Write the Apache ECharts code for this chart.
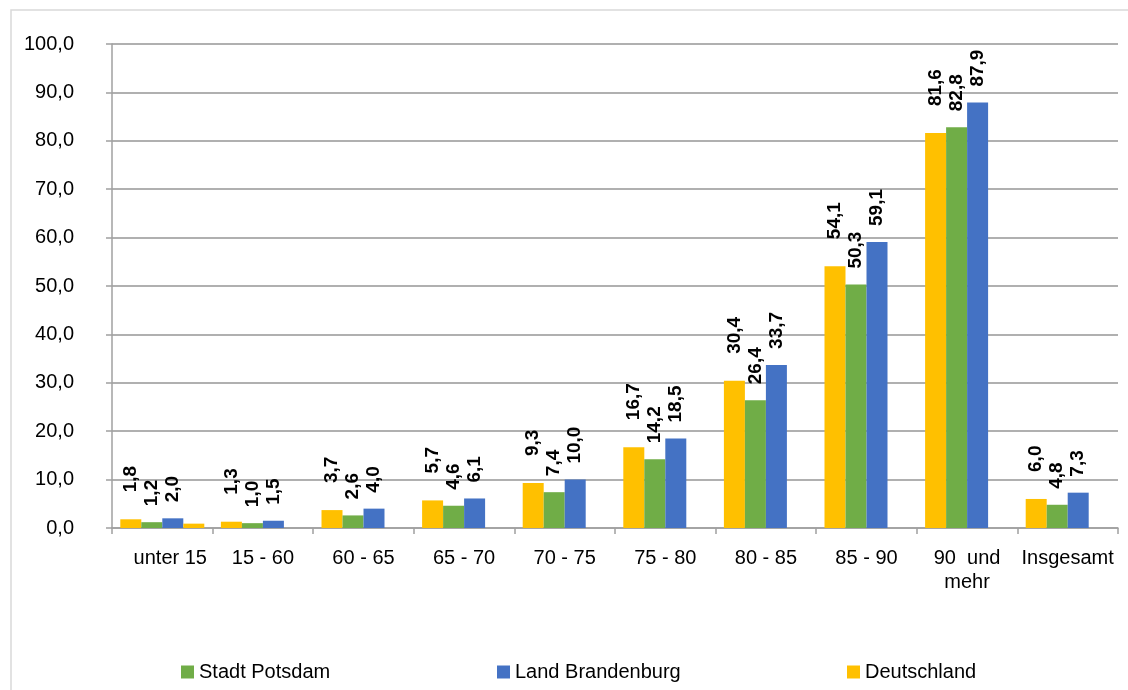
<!DOCTYPE html>
<html>
<head>
<meta charset="utf-8">
<script src="https://cdn.jsdelivr.net/npm/echarts@6/dist/echarts.min.js"></script>
<style>
html,body{margin:0;padding:0;background:#fff;}
#chart{width:1128px;height:690px;}
</style>
</head>
<body>
<div id="chart"></div>
<script>
const categories = ['unter 15','15 - 60','60 - 65','65 - 70','70 - 75','75 - 80','80 - 85','85 - 90','90  und\nmehr','Insgesamt'];
const deutschland = [1.8,1.3,3.7,5.7,9.3,16.7,30.4,54.1,81.6,6.0];
const stadtPotsdam = [1.2,1.0,2.6,4.6,7.4,14.2,26.4,50.3,82.8,4.8];
const landBrandenburg = [2.0,1.5,4.0,6.1,10.0,18.5,33.7,59.1,87.9,7.3];
const extraBar = [0.9,null,null,null,null,null,null,null,null,null];
const yTicks = {min:0, max:100, interval:10};

const FONT = "'Liberation Sans Narrow','Arial Narrow','Liberation Sans',Arial,sans-serif";
const fmt = v => Number(v).toFixed(1).replace('.', ',');

const chart = echarts.init(document.getElementById('chart'), null, {renderer:'canvas'});

function labelCfg(dist){
  return {
    show:true, position:'top', rotate:90, align:'left', verticalAlign:'middle',
    distance:dist, color:'#000', fontFamily:FONT, fontWeight:'bold', fontSize:19,
    formatter: p => fmt(p.value)
  };
}

function legendCfg(name, left){
  return {
    data:[name], left:left, top:662, icon:'rect', itemWidth:13, itemHeight:13,
    itemGap:0, padding:0,
    textStyle:{fontFamily:FONT, fontSize:20, color:'#000', padding:[0,0,0,0]}
  };
}

const xData = categories.map((c, i) => i === 0 ? {value:c, textStyle:{padding:[0,0,0,16]}} : c);

chart.setOption({
  animation:false,
  backgroundColor:'#fff',
  graphic:[{
    type:'rect', shape:{x:11, y:10, width:1130, height:700},
    style:{fill:'none', stroke:'#d9d9d9', lineWidth:1.5}, silent:true, z:-1
  }],
  grid:{left:112, right:10, top:44, bottom:162, containLabel:false},
  legend:[
    legendCfg('Stadt Potsdam', 181),
    legendCfg('Land Brandenburg', 497),
    legendCfg('Deutschland', 847)
  ],
  xAxis:{
    type:'category', data:xData,
    axisLine:{show:true, lineStyle:{color:'#a0a0a0', width:1.5}},
    axisTick:{show:true, alignWithLabel:false, length:6, lineStyle:{color:'#a0a0a0', width:1.5}},
    axisLabel:{interval:0, margin:18, color:'#000', fontFamily:FONT, fontSize:20, lineHeight:24}
  },
  yAxis:{
    type:'value', min:yTicks.min, max:yTicks.max, interval:yTicks.interval,
    axisLine:{show:true, lineStyle:{color:'#a0a0a0', width:1.5}},
    axisTick:{show:true, length:6, lineStyle:{color:'#a0a0a0', width:1.5}},
    splitLine:{show:true, lineStyle:{color:'#969696', width:1.5}},
    axisLabel:{margin:38, color:'#000', fontFamily:FONT, fontSize:20, formatter: v => fmt(v)}
  },
  series:[
    {name:'Deutschland', type:'bar', data:deutschland, barGap:'0%', barCategoryGap:'16.5%',
     itemStyle:{color:'#FFC000'}, label:labelCfg(27)},
    {name:'Stadt Potsdam', type:'bar', data:stadtPotsdam,
     itemStyle:{color:'#70AD47'}, label:labelCfg(16)},
    {name:'Land Brandenburg', type:'bar', data:landBrandenburg,
     itemStyle:{color:'#4472C4'}, label:labelCfg(16)},
    {name:'extra', type:'bar', data:extraBar,
     itemStyle:{color:'#FFC000'}, label:{show:false}}
  ]
});
</script>
</body>
</html>
